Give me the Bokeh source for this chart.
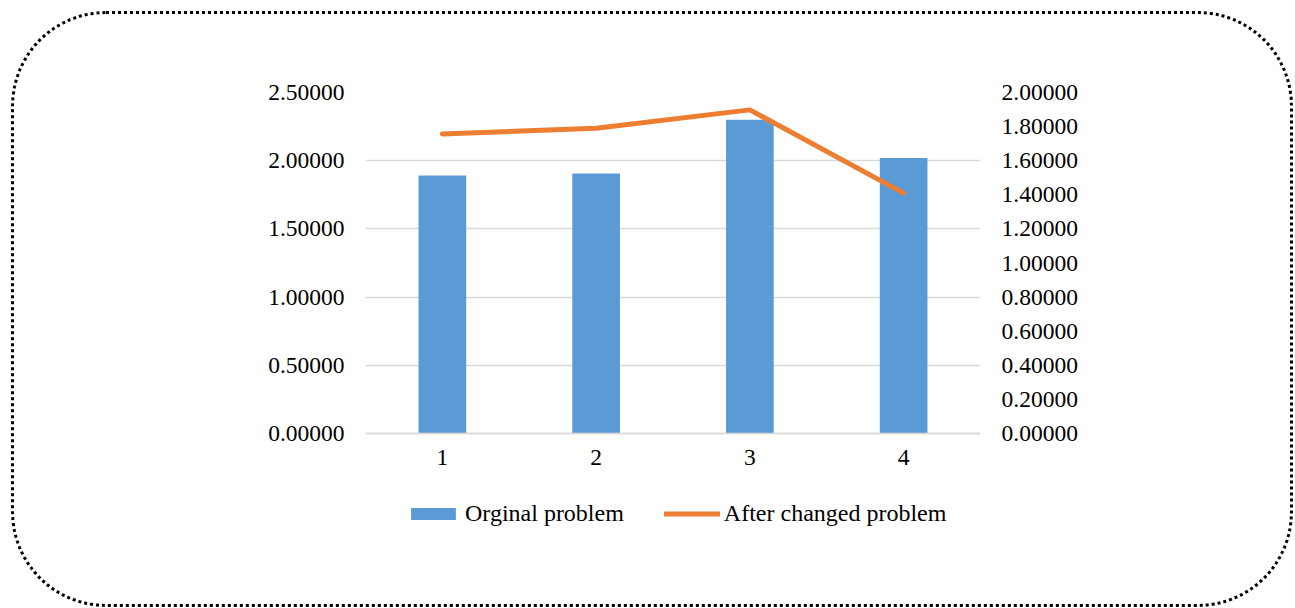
from bokeh.plotting import figure
from bokeh.models import (Range1d, LinearAxis, FixedTicker, NumeralTickFormatter,
                          Legend, LegendItem, FactorRange, Grid)
from bokeh.embed import file_html
from bokeh.resources import INLINE

categories = ["1", "2", "3", "4"]
original_problem = [1.892, 1.907, 2.301, 2.020]
after_changed = [1.757, 1.790, 1.898, 1.410]
left_ticks = [0.0, 0.5, 1.0, 1.5, 2.0, 2.5]
right_ticks = [0.0, 0.2, 0.4, 0.6, 0.8, 1.0, 1.2, 1.4, 1.6, 1.8, 2.0]

FONT = "Liberation Serif"
FS = "23.5px"
LEGEND_FS = "24px"

# layout (pixels)
PLOT_H = 341          # height of the 0..max area
EXTRA_H = 127         # room below zero for category labels and legend
LEFT_MAX, RIGHT_MAX = 2.5, 2.0
left_min = -EXTRA_H * LEFT_MAX / PLOT_H
right_min = -EXTRA_H * RIGHT_MAX / PLOT_H

p = figure(x_range=FactorRange(*categories), y_range=Range1d(left_min, LEFT_MAX),
           frame_width=615, frame_height=PLOT_H + EXTRA_H,
           output_backend="svg", toolbar_location=None,
           min_border_left=351, min_border_right=310, min_border_top=78,
           min_border_bottom=44, y_axis_location=None)
p.margin = (11, 0, 0, 11)
p.styles = {"border": "3px dotted black", "border-radius": "95px"}
p.outline_line_color = None
p.background_fill_color = None
p.border_fill_color = None

p.extra_y_ranges = {"right": Range1d(right_min, RIGHT_MAX)}

bars = p.vbar(x=categories, top=original_problem, bottom=0, width=0.31,
              fill_color="#5B9BD5", line_color=None)
line = p.line(x=categories, y=after_changed, y_range_name="right",
              line_color="#ED7D31", line_width=5, line_cap="round", line_join="round")

left_axis = LinearAxis(ticker=FixedTicker(ticks=left_ticks),
                       formatter=NumeralTickFormatter(format="0.00000"))
right_axis = LinearAxis(y_range_name="right", ticker=FixedTicker(ticks=right_ticks),
                        formatter=NumeralTickFormatter(format="0.00000"))
p.add_layout(left_axis, "left")
p.add_layout(right_axis, "right")

for ax in [left_axis, right_axis]:
    ax.axis_line_color = None
    ax.major_tick_line_color = None
    ax.minor_tick_line_color = None
    ax.major_tick_out = 0
    ax.major_tick_in = 0
    ax.minor_tick_out = 0
    ax.major_label_text_font = FONT
    ax.major_label_text_font_size = FS
    ax.major_label_text_color = "#000000"
    ax.major_label_standoff = 21

xa = p.xaxis[0]
xa.fixed_location = 0
xa.axis_line_color = "#D9D9D9"
xa.axis_line_width = 1.3
xa.major_tick_line_color = None
xa.minor_tick_line_color = None
xa.major_tick_out = 0
xa.major_tick_in = 0
xa.major_label_text_font = FONT
xa.major_label_text_font_size = FS
xa.major_label_text_color = "#000000"
xa.major_label_standoff = 16

p.xgrid.grid_line_color = None
p.ygrid.grid_line_color = None
p.add_layout(Grid(dimension=1, ticker=left_axis.ticker, grid_line_color="#D9D9D9",
                  grid_line_width=1.3))

legend = Legend(items=[LegendItem(label="Orginal problem", renderers=[bars]),
                       LegendItem(label="After changed problem", renderers=[line])],
                orientation="horizontal", location=(40, 33),
                glyph_width=56, glyph_height=15, label_standoff=4, spacing=40,
                border_line_color=None, background_fill_alpha=0,
                label_text_font=FONT, label_text_font_size=LEGEND_FS,
                label_text_color="#000000", padding=0, margin=0)
p.add_layout(legend, "center")

open("out.html", "w").write(file_html(p, INLINE))
